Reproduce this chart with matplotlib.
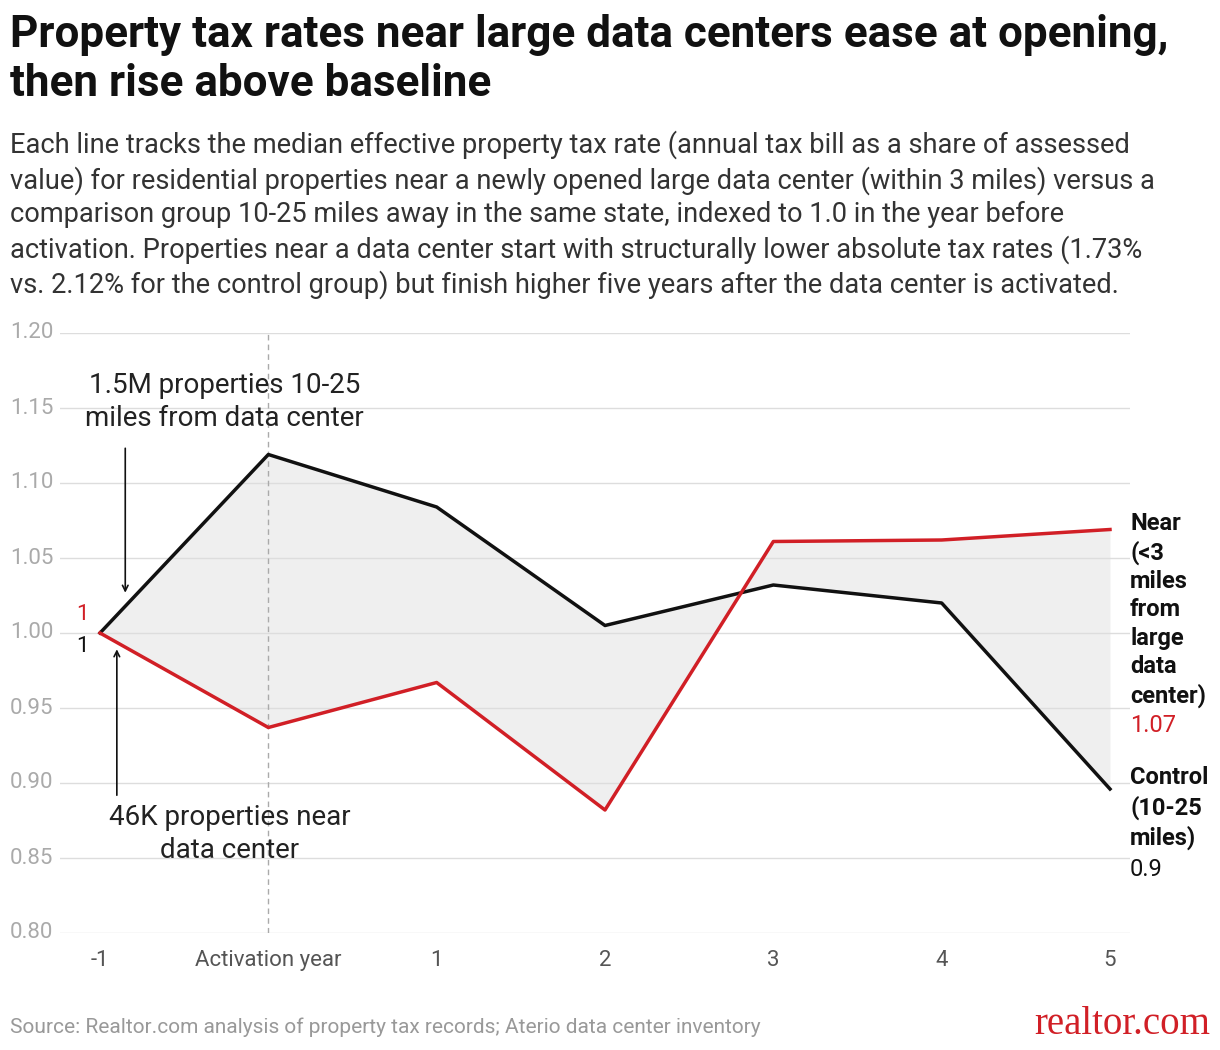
import matplotlib
matplotlib.use("Agg")
import matplotlib.pyplot as plt
from matplotlib.transforms import blended_transform_factory as btf

x_labels = ["-1", "Activation year", "1", "2", "3", "4", "5"]
years = [-1, 0, 1, 2, 3, 4, 5]
near = [1.0, 0.937, 0.967, 0.882, 1.061, 1.062, 1.069]
control = [1.0, 1.119, 1.084, 1.005, 1.032, 1.020, 0.896]
yticks = [0.80, 0.85, 0.90, 0.95, 1.00, 1.05, 1.10, 1.15, 1.20]

plt.rcParams['font.family'] = ['Roboto', 'DejaVu Sans']
RED = "#d11f26"
W, H = 1220, 1050
fig = plt.figure(figsize=(12.2, 10.5), dpi=100)
ax = fig.add_axes([60/W, 1-933/H, 1070/W, 600/H])
ax.set_xlim(-1 - 40/168.3, 5 + 20/168.3)
ax.set_ylim(0.80, 1.20)
for s in ax.spines.values():
    s.set_visible(False)
ax.set_yticks(yticks)
ax.set_yticklabels([])
ax.tick_params(length=0)
ax.grid(axis='y', color="#dddddd", lw=1)
ax.set_xticks(years)
ax.set_xticklabels(x_labels, fontsize=16, color="#555555")
ax.tick_params(axis='x', pad=12)
tr = btf(fig.transFigure, ax.transData)
for v in yticks:
    ax.text(10/W, v, f"{v:.2f}", transform=tr, fontsize=16, color="#aaaaaa", va='center', ha='left')

ax.axvline(0, color="#aaaaaa", ls=(0, (4, 3)), lw=1)
ax.fill_between(years, near, control, color="#efefef", lw=0)
ax.plot(years, control, color="#111111", lw=2.5)
ax.plot(years, near, color=RED, lw=2.5)

ax.text(-1.07, 1.012, "1", color=RED, fontsize=16, ha='right', va='center')
ax.text(-1.07, 0.991, "1", color="#111111", fontsize=16, ha='right', va='center')

ax.annotate("", xy=(-0.85, 1.025), xytext=(-0.85, 1.125),
            arrowprops=dict(arrowstyle='->', color='#111111', lw=1.2))
ax.text(-0.26, 1.154, "1.5M properties 10-25\nmiles from data center", fontsize=20,
        ha='center', va='center', color='#222222', linespacing=1.3)
ax.annotate("", xy=(-0.9, 0.991), xytext=(-0.9, 0.89),
            arrowprops=dict(arrowstyle='->', color='#111111', lw=1.2))
ax.text(-0.23, 0.866, "46K properties near\ndata center", fontsize=20,
        ha='center', va='center', color='#222222', linespacing=1.3)

ax.text(1130/W, 1.081, "Near\n(<3\nmiles\nfrom\nlarge\ndata\ncenter)", transform=tr,
        fontsize=17, fontweight='bold', color='#111111', va='top', ha='left', linespacing=1.3)
ax.text(1130/W, 0.938, "1.07", transform=tr, fontsize=17, color=RED, va='center', ha='left')
ax.text(1130/W, 0.911, "Control\n(10-25\nmiles)", transform=tr,
        fontsize=17, fontweight='bold', color='#111111', va='top', ha='left', linespacing=1.3)
ax.text(1130/W, 0.842, "0.9", transform=tr, fontsize=17, color='#111111', va='center', ha='left')

fig.text(10/W, 1-14/H, "Property tax rates near large data centers ease at opening,\nthen rise above baseline",
         fontsize=31.7, fontweight='bold', va='top', ha='left', color='#111111', linespacing=1.2)
fig.text(10/W, 1-215/H,
         "Each line tracks the median effective property tax rate (annual tax bill as a share of assessed\n"
         "value) for residential properties near a newly opened large data center (within 3 miles) versus a\n"
         "comparison group 10-25 miles away in the same state, indexed to 1.0 in the year before\n"
         "activation. Properties near a data center start with structurally lower absolute tax rates (1.73%\n"
         "vs. 2.12% for the control group) but finish higher five years after the data center is activated.",
         fontsize=19.6, va='center', ha='left', color='#333333', linespacing=1.3)
fig.text(10/W, 1-1027/H, "Source: Realtor.com analysis of property tax records; Aterio data center inventory",
         fontsize=15, color='#999999', va='center', ha='left')
fig.text(1210/W, 1-1024/H, "realtor.com", fontsize=28, color=RED, family='Liberation Serif',
         va='center', ha='right')
fig.savefig("out.png", dpi=100)
